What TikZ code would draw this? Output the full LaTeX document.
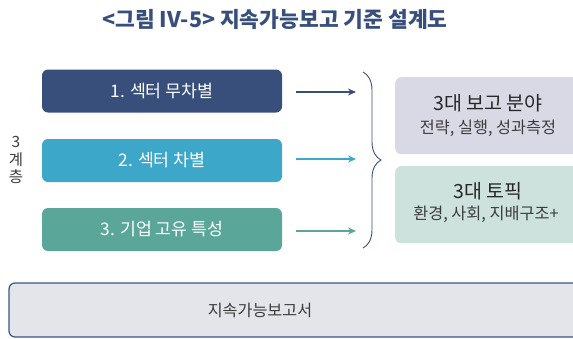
\documentclass[tikz,border=0pt]{standalone}
\usepackage{fontspec}
\setmainfont{Noto Sans CJK KR}
\usetikzlibrary{arrows.meta,decorations.pathreplacing}
\definecolor{navy}{HTML}{384F7C}
\definecolor{sky}{HTML}{3DA7C9}
\definecolor{teal2}{HTML}{5AA79A}
\definecolor{lav}{HTML}{D9D9E5}
\definecolor{mint}{HTML}{CDE1DD}
\definecolor{botfill}{HTML}{E3E5EB}
\definecolor{botline}{HTML}{3B5488}
\definecolor{txtgray}{HTML}{3C3C3C}
\tikzset{
  layerbox/.style={rounded corners=6pt, minimum width=240pt, minimum height=43pt, inner sep=0pt, text=white, font=\fontsize{17.3}{20}\selectfont},
  sidebox/.style={rounded corners=6pt, minimum width=200pt, minimum height=77pt, inner sep=0pt, anchor=north west},
  arr/.style={line width=1.1pt, -{Stealth[length=8pt,width=7pt]}, shorten <=14pt},
  vchar/.style={text=txtgray, font=\fontsize{15.5}{16}\selectfont, inner sep=0pt, text height=0.78em, text depth=0.05em},
}
\begin{document}
\begin{tikzpicture}[x=1pt,y=-1pt]
\useasboundingbox (0,0) rectangle (573,338);
\clip (0,0) rectangle (573,338);
% title
\node[font=\bfseries\fontsize{21.5}{24}\selectfont, text=navy] (title) at (275,19) {<그림 IV-5> 지속가능보고 기준 설계도};
% layer boxes
\node[layerbox, fill=navy] (b1) at (162,91) {1. 섹터 무차별};
\node[layerbox, fill=sky] (b2) at (162,160.5) {2. 섹터 차별};
\node[layerbox, fill=teal2] (b3) at (162,229.5) {3. 기업 고유 특성};
% side label (vertical)
\node[vchar] (l1) at (16,144) {3};
\node[vchar] (l2) at (16,161.5) {계};
\node[vchar] (l3) at (16,179) {층};
% brace
\coordinate (bt) at (363,72);
\coordinate (bb) at (363,248);
\draw[navy, line width=0.9pt, decorate, decoration={brace, amplitude=18pt, aspect=0.5}] (bt) -- (bb);
% arrows
\coordinate (e1) at (356,92);
\coordinate (e2) at (356,159);
\coordinate (e3) at (356,231);
\draw[arr, navy] (b1.east |- e1) -- (e1);
\draw[arr, sky] (b2.east |- e2) -- (e2);
\draw[arr, teal2] (b3.east |- e3) -- (e3);
% right boxes
\node[sidebox, fill=lav] (r1) at (395,77) {};
\node[text=black!85, font=\fontsize{19.5}{22}\selectfont] (r1a) at (488,103) {3대 보고 분야};
\node[text=txtgray, font=\fontsize{16.3}{18}\selectfont] (r1b) at (488,128) {전략, 실행, 성과측정};
\node[sidebox, fill=mint] (r2) at (395,166) {};
\node[text=black!85, font=\fontsize{19.5}{22}\selectfont] (r2a) at (488,191) {3대 토픽};
\node[text=txtgray, font=\fontsize{16.3}{18}\selectfont] (r2b) at (486,214) {환경, 사회, 지배구조+};
% bottom box
\draw[botline, fill=botfill, line width=1.2pt, rounded corners=6pt] (9,283) rectangle (600,337);
\node[text=txtgray, font=\fontsize{16.2}{18}\selectfont] (bot) at (260,310) {지속가능보고서};
\end{tikzpicture}
\end{document}
